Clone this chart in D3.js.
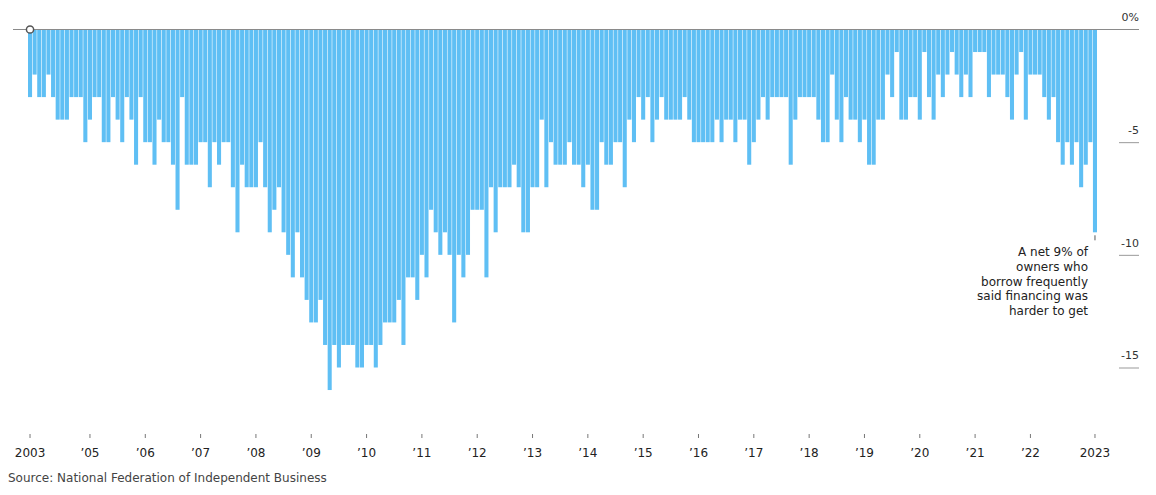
<!DOCTYPE html>
<html>
<head>
<meta charset="utf-8">
<script src="https://cdn.jsdelivr.net/npm/d3@7"></script>
<style>
  body { margin: 0; background: #fff; }
  svg text { font-family: "DejaVu Sans", "Liberation Sans", Arial, sans-serif; }
</style>
</head>
<body>
<svg id="chart" width="1156" height="495"></svg>
<script>
// NFIB: net % of frequent borrowers saying their last loan was easier (+) / harder (-) to get
// monthly, Dec 2003 to Mar 2023
const firstMonth = new Date(2003, 11, 1);

const values2003to2007 = [
  -3,                                               // Dec 2003
  -2, -3, -3, -2, -3, -4, -4, -4, -3, -3, -3, -5,   // 2004
  -4, -3, -3, -5, -5, -3, -4, -5, -3, -4, -6, -3,   // 2005
  -5, -5, -6, -4, -5, -5, -6, -8, -3, -6, -6, -6,   // 2006
  -5, -5, -7, -5, -6, -5, -5, -7, -9, -6, -7, -7,   // 2007
];
const values2008to2012 = [
  -7, -5, -7, -9, -8, -7, -9, -10, -11, -9, -11, -12,
  -13, -13, -12, -14, -16, -14, -15, -14, -14, -14, -15, -15,
  -14, -14, -15, -14, -13, -13, -13, -12, -14, -11, -11, -12,
  -10, -11, -8, -9, -10, -9, -10, -13, -10, -11, -10, -8,
  -8, -8, -11, -7, -9, -7, -7, -7, -6, -7, -9, -9,
];
const values2013to2017 = [
  -7, -7, -4, -7, -5, -6, -6, -6, -5, -6, -6, -7,
  -6, -8, -8, -5, -6, -6, -5, -5, -7, -4, -5, -3,
  -4, -3, -5, -4, -3, -4, -4, -4, -4, -3, -4, -5,
  -5, -5, -5, -5, -4, -5, -4, -4, -5, -4, -4, -6,
  -5, -4, -3, -4, -3, -3, -3, -3, -6, -4, -3, -3,
];
const values2018to2023 = [
  -3, -3, -4, -5, -5, -2, -4, -5, -3, -4, -4, -5,
  -4, -6, -6, -4, -4, -2, -3, -1, -4, -4, -3, -3,
  -4, -1, -3, -4, -2, -3, -2, -1, -2, -3, -2, -3,
  -1, -1, -1, -3, -2, -2, -2, -3, -4, -2, -1, -4,
  -2, -2, -2, -3, -4, -3, -5, -6, -5, -6, -5, -7,
  -6, -5, -9,                                       // Jan-Mar 2023
];

const tickLabels = ["2003", "’05", "’06", "’07", "’08", "’09", "’10", "’11", "’12", "’13",
  "’14", "’15", "’16", "’17", "’18", "’19", "’20", "’21", "’22", "2023"];
const yTicks = [0, -5, -10, -15];
const annotationLines = ["A net 9% of", "owners who", "borrow frequently", "said financing was", "harder to get"];
const sourceText = "Source: National Federation of Independent Business";

const values = [...values2003to2007, ...values2008to2012, ...values2013to2017, ...values2018to2023];
const data = values.map((v, i) => ({ month: d3.timeMonth.offset(firstMonth, i), value: v }));

const svg = d3.select("#chart");

const x = d3
  .scaleBand()
  .domain(data.map((d) => d.month))
  .range([28, 1097])
  .paddingInner(0.12);

const y = d3.scaleLinear().domain([0, -15]).range([29.5, 367.5]);

// bars hang down from zero
svg
  .append("g")
  .selectAll("rect")
  .data(data)
  .join("rect")
  .attr("x", (d) => x(d.month))
  .attr("y", y(0))
  .attr("width", x.bandwidth())
  .attr("height", (d) => y(d.value) - y(0))
  .attr("fill", "#5fbff4");

// zero line with the start marker
svg
  .append("line")
  .attr("x1", 13)
  .attr("x2", 1139)
  .attr("y1", y(0))
  .attr("y2", y(0))
  .attr("stroke", "#8a8a8a")
  .attr("stroke-width", 1.2);
svg
  .append("circle")
  .attr("cx", x(data[0].month) + x.bandwidth() / 2)
  .attr("cy", y(0))
  .attr("r", 3.6)
  .attr("fill", "#fff")
  .attr("stroke", "#555")
  .attr("stroke-width", 1.5);

// right axis: label sits above a short tick line
const yAxis = d3
  .axisLeft(y)
  .tickValues(yTicks)
  .tickSize(20)
  .tickFormat((d) => (d === 0 ? "0%" : d));
const yAxisG = svg.append("g").attr("transform", "translate(1139,0)").call(yAxis);
yAxisG.select(".domain").remove();
yAxisG
  .selectAll(".tick line")
  .attr("stroke", "#999")
  .attr("opacity", (d) => (d === 0 ? 0 : 1));
yAxisG
  .selectAll(".tick text")
  .attr("x", 0)
  .attr("dy", "-0.8em")
  .attr("text-anchor", "end")
  .attr("fill", "#333")
  .style("font-size", "11px");

// x axis
const tickMonths = [firstMonth]
  .concat(d3.range(2005, 2023).map((yr) => new Date(yr, 0, 1)))
  .concat([data[data.length - 1].month]);
const xAxis = d3
  .axisBottom(x)
  .tickValues(tickMonths)
  .tickSize(4)
  .tickPadding(10)
  .tickFormat((d, i) => tickLabels[i]);
const xAxisG = svg.append("g").attr("transform", "translate(0,434)").call(xAxis);
xAxisG.select(".domain").remove();
xAxisG.selectAll(".tick line").attr("stroke", "#777");
xAxisG
  .selectAll(".tick text")
  .attr("fill", "#222")
  .style("font-size", "12px");

// annotation for the latest bar
const last = data[data.length - 1];
const lastX = x(last.month) + x.bandwidth() / 2;
svg
  .append("line")
  .attr("x1", lastX)
  .attr("x2", lastX)
  .attr("y1", y(last.value) + 3)
  .attr("y2", y(last.value) + 8)
  .attr("stroke", "#555");
svg
  .append("g")
  .selectAll("text")
  .data(annotationLines)
  .join("text")
  .attr("x", 1088)
  .attr("y", (d, i) => 256 + i * 14.8)
  .attr("text-anchor", "end")
  .attr("fill", "#222")
  .style("font-size", "12px")
  .text((d) => d);

svg
  .append("text")
  .attr("x", 8)
  .attr("y", 482)
  .attr("fill", "#444")
  .style("font-size", "12px")
  .text(sourceText);
</script>
</body>
</html>
